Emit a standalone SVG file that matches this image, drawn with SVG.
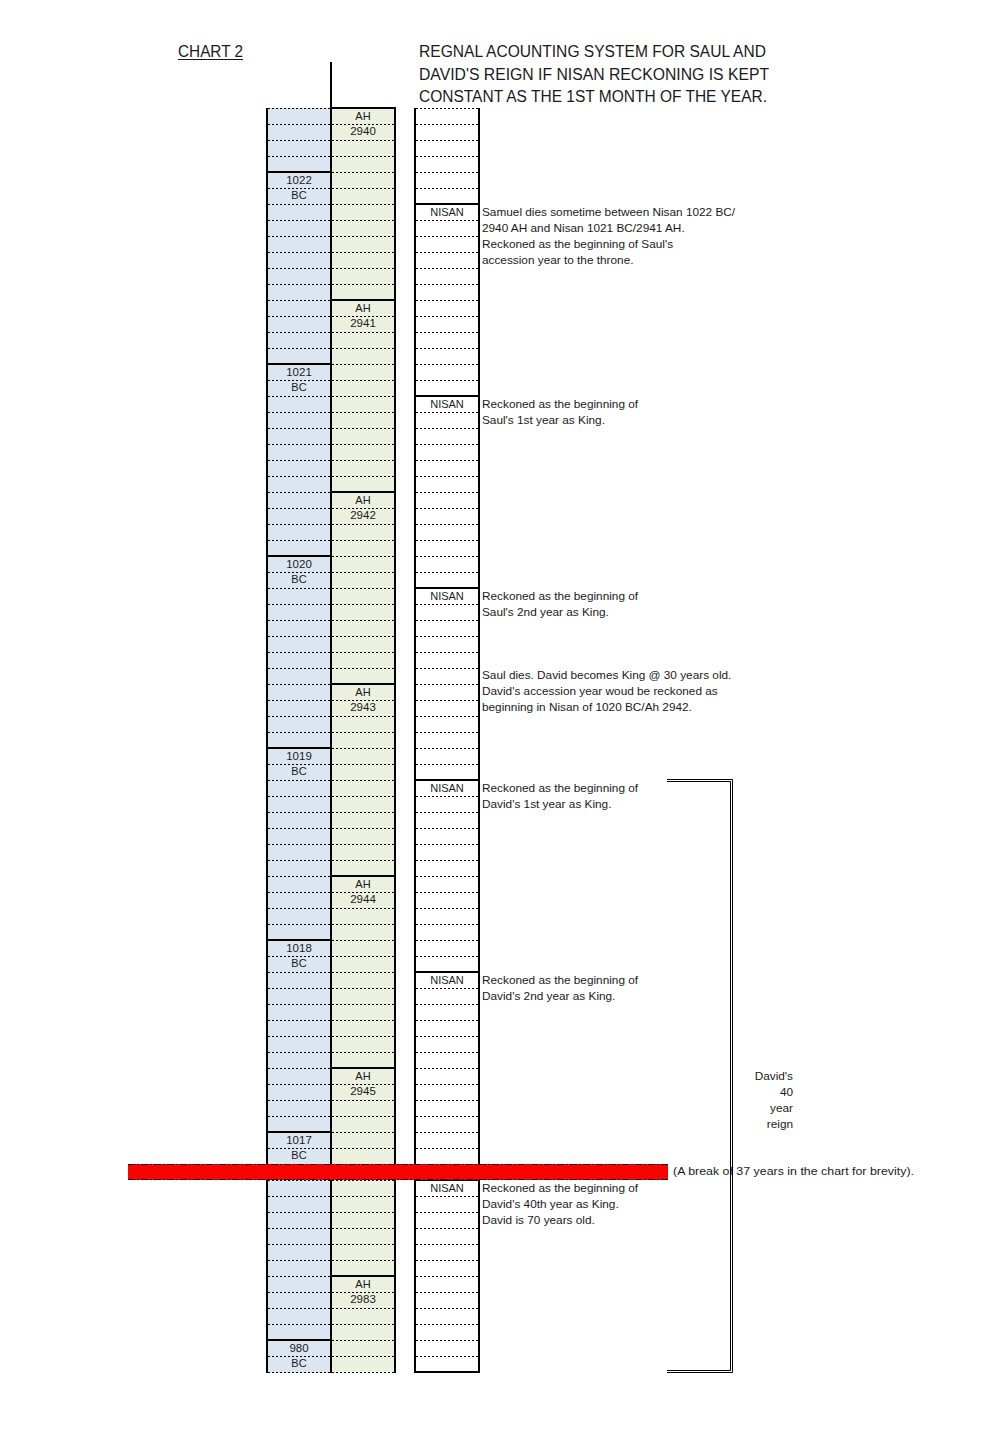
<svg xmlns="http://www.w3.org/2000/svg" width="988" height="1429" viewBox="0 0 988 1429">
<style>
text{font-family:"Liberation Sans",Arial,sans-serif;fill:#1a1a1a}
.t{font-size:16px}
.c{font-size:11.5px;text-anchor:middle}
.n{font-size:11px;text-anchor:middle}
.a{font-size:11.8px}
.r{font-size:11.8px;text-anchor:end}
.s{stroke:#000;stroke-width:2;fill:none}
.b{stroke:#000;stroke-width:1;fill:none}
</style>
<defs>
<pattern id="dots" patternUnits="userSpaceOnUse" x="0" y="108" width="4" height="16">
<rect x="0" y="0" width="2" height="1" fill="#000"/>
</pattern>
</defs>
<rect width="988" height="1429" fill="#fff"/>
<g id="title">
<text class="t" x="178" y="57" textLength="65" lengthAdjust="spacingAndGlyphs">CHART 2</text>
<line x1="178" y1="59.5" x2="243" y2="59.5" stroke="#1a1a1a" stroke-width="1"/>
<text class="t" x="419" y="57" textLength="347" lengthAdjust="spacingAndGlyphs">REGNAL ACOUNTING SYSTEM FOR SAUL AND</text>
<text class="t" x="419" y="80" textLength="350" lengthAdjust="spacingAndGlyphs">DAVID'S REIGN IF NISAN RECKONING IS KEPT</text>
<text class="t" x="419" y="102" textLength="348" lengthAdjust="spacingAndGlyphs">CONSTANT AS THE 1ST MONTH OF THE YEAR.</text>
</g>
<g id="bc-column">
<rect x="267" y="108" width="64" height="1265" fill="#dce6f1"/>
<rect x="267" y="108" width="64" height="1265" fill="url(#dots)"/>
<path class="s" d="M267 172H331M267 364H331M267 556H331M267 748H331M267 940H331M267 1132H331M267 1340H331"/>
<text class="c" x="299" y="184">1022</text><text class="n" x="299" y="199">BC</text>
<text class="c" x="299" y="376">1021</text><text class="n" x="299" y="391">BC</text>
<text class="c" x="299" y="568">1020</text><text class="n" x="299" y="583">BC</text>
<text class="c" x="299" y="760">1019</text><text class="n" x="299" y="775">BC</text>
<text class="c" x="299" y="952">1018</text><text class="n" x="299" y="967">BC</text>
<text class="c" x="299" y="1144">1017</text><text class="n" x="299" y="1159">BC</text>
<text class="c" x="299" y="1352">980</text><text class="n" x="299" y="1367">BC</text>
</g>
<g id="ah-column">
<rect x="331" y="108" width="64" height="1265" fill="#ebf1de"/>
<rect x="331" y="108" width="64" height="1265" fill="url(#dots)"/>
<path class="s" d="M331 108H395M331 300H395M331 492H395M331 684H395M331 876H395M331 1068H395M331 1276H395"/>
<text class="n" x="363" y="120">AH</text><text class="c" x="363" y="135">2940</text>
<text class="n" x="363" y="312">AH</text><text class="c" x="363" y="327">2941</text>
<text class="n" x="363" y="504">AH</text><text class="c" x="363" y="519">2942</text>
<text class="n" x="363" y="696">AH</text><text class="c" x="363" y="711">2943</text>
<text class="n" x="363" y="888">AH</text><text class="c" x="363" y="903">2944</text>
<text class="n" x="363" y="1080">AH</text><text class="c" x="363" y="1095">2945</text>
<text class="n" x="363" y="1288">AH</text><text class="c" x="363" y="1303">2983</text>
</g>
<g id="nisan-column">
<rect x="415" y="108" width="64" height="1265" fill="#fff"/>
<rect x="415" y="108" width="64" height="1265" fill="url(#dots)"/>
<path class="s" d="M415 204H479M415 396H479M415 588H479M415 780H479M415 972H479M415 1180H479M414 1372H480"/>
<text class="n" x="447" y="216">NISAN</text>
<text class="n" x="447" y="408">NISAN</text>
<text class="n" x="447" y="600">NISAN</text>
<text class="n" x="447" y="792">NISAN</text>
<text class="n" x="447" y="984">NISAN</text>
<text class="n" x="447" y="1192">NISAN</text>
</g>
<g id="column-borders">
<path class="s" d="M267 108V1373M331 62V1373M395 107V1373M415 108V1373M479 108V1373"/>
</g>
<g id="note-samuel">
<text class="a" x="482" y="216">Samuel dies sometime between Nisan 1022 BC/</text>
<text class="a" x="482" y="232">2940 AH and Nisan 1021 BC/2941 AH.</text>
<text class="a" x="482" y="248">Reckoned as the beginning of Saul's</text>
<text class="a" x="482" y="264">accession year to the throne.</text>
</g>
<g id="note-saul-1">
<text class="a" x="482" y="408">Reckoned as the beginning of</text>
<text class="a" x="482" y="424">Saul's 1st year as King.</text>
</g>
<g id="note-saul-2">
<text class="a" x="482" y="600">Reckoned as the beginning of</text>
<text class="a" x="482" y="616">Saul's 2nd year as King.</text>
</g>
<g id="note-saul-dies">
<text class="a" x="482" y="679">Saul dies. David becomes King @ 30 years old.</text>
<text class="a" x="482" y="695">David's accession year woud be reckoned as</text>
<text class="a" x="482" y="711">beginning in Nisan of 1020 BC/Ah 2942.</text>
</g>
<g id="note-david-1">
<text class="a" x="482" y="792">Reckoned as the beginning of</text>
<text class="a" x="482" y="808">David's 1st year as King.</text>
</g>
<g id="note-david-2">
<text class="a" x="482" y="984">Reckoned as the beginning of</text>
<text class="a" x="482" y="1000">David's 2nd year as King.</text>
</g>
<g id="note-david-40">
<text class="a" x="482" y="1192">Reckoned as the beginning of</text>
<text class="a" x="482" y="1208">David's 40th year as King.</text>
<text class="a" x="482" y="1224">David is 70 years old.</text>
</g>
<g id="break">
<rect x="128" y="1164" width="540" height="16" fill="#ff0000"/>
<path d="M128 1164.5H668M128 1179.5H668" stroke="#1a0000" stroke-width="1" stroke-dasharray="7 2 2 2"/>
<text class="a" x="673" y="1175" textLength="241" lengthAdjust="spacingAndGlyphs">(A break of 37 years in the chart for brevity).</text>
</g>
<g id="connectors">
<path class="b" d="M667 779.5H732.5V1372.5H667"/>
<path class="b" d="M667 781.5H730.5V1370.5H667"/>
</g>
<g id="reign-label">
<text class="r" x="793" y="1080">David's</text>
<text class="r" x="793" y="1096">40</text>
<text class="r" x="793" y="1112">year</text>
<text class="r" x="793" y="1128">reign</text>
</g>
</svg>
